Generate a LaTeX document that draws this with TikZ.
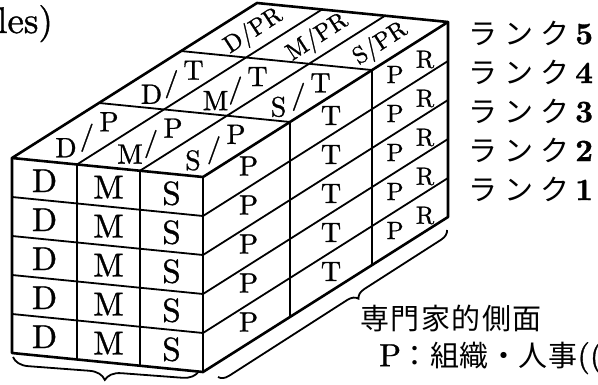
\documentclass[tikz,border=0pt]{standalone}
\usepackage{fontspec}
\setmainfont{lmroman10-regular.otf}[BoldFont=lmroman10-bold.otf, FakeBold=1.0]
\newfontfamily\cjk{Noto Sans CJK JP}
\usetikzlibrary{decorations.pathreplacing,calc}
\begin{document}
\begin{tikzpicture}[x=1pt,y=-1pt,
  edge/.style={line width=2.6pt, line join=round, line cap=round},
  gridline/.style={line width=1.8pt, line cap=round},
  fl/.style={font=\fontsize{33}{33}\selectfont, inner sep=0pt},
  tl/.style={font=\fontsize{28}{28}\selectfont, inner sep=0pt},
  prl/.style={font=\fontsize{24}{24}\selectfont, inner sep=0pt, rotate=33},
  rl/.style={font=\fontsize{28}{28}\selectfont, inner sep=0pt},
  pl/.style={font=\fontsize{25}{25}\selectfont, inner sep=0pt},
  jt/.style={anchor=west, inner sep=0pt, font=\cjk\fontsize{29}{29}\selectfont},
  bracestyle/.style={line width=1.8pt, decorate}
]
\useasboundingbox (0,0) rectangle (598,385);
\def\cfa{{0,0.3403,0.6702,1}}
\def\dfa{{0,0.355,0.69,1}}
\foreach \i in {0,1,2,3}{
 \foreach \k in {0,1,2,3}{
  \foreach \j in {0,...,5}{
   \pgfmathsetmacro\xx{12+\cfa[\i]*191+\dfa[\k]*245}
   \pgfmathsetmacro\yy{158+\cfa[\i]*19-\dfa[\k]*155+39*\j}
   \coordinate (p\i\k\j) at (\xx,\yy);
}}}
% front grid
\foreach \j in {1,...,4} \draw[gridline] (p00\j) -- (p30\j);
\foreach \i in {1,2} \draw[gridline] (p\i00) -- (p\i05);
% top grid
\foreach \i in {1,2} \draw[gridline] (p\i00) -- (p\i30);
\foreach \k in {1,2} \draw[gridline] (p0\k0) -- (p3\k0);
% right grid
\foreach \k in {1,2} \draw[gridline] (p3\k0) -- (p3\k5);
\foreach \j in {1,...,4} \draw[gridline] (p30\j) -- (p33\j);
% outline
\draw[edge] (p000) -- (p030) -- (p330) -- (p335) -- (p305) -- (p005) -- cycle;
\draw[edge] (p000) -- (p300) -- (p330);
\draw[edge] (p300) -- (p305);
% front labels
\foreach \j/\jj in {0/1,1/2,2/3,3/4,4/5}{
  \node[fl] at ($(p00\j)!0.5!(p10\jj)$) {D};
  \node[fl] at ($(p10\j)!0.5!(p20\jj)$) {M};
  \node[fl] at ($(p20\j)!0.5!(p30\jj)$) {S};
}
% top labels
\foreach \i/\ii/\L in {0/1/D,1/2/M,2/3/S}{
  \coordinate (c) at ($(p\i00)!0.5!(p\ii10)$);
  \node[tl] at ($(c)+(-22,14)$) {\L};
  \node[tl] at ($(c)+(-1,4)$) {/};
  \node[tl] at ($(c)+(21,-12)$) {P};
  \coordinate (c) at ($(p\i10)!0.5!(p\ii20)$);
  \node[tl] at ($(c)+(-21,14)$) {\L};
  \node[tl] at ($(c)+(-1,4)$) {/};
  \node[tl] at ($(c)+(21,-10)$) {T};
  \node[prl] at ($(p\i20)!0.5!(p\ii30)+(2,1)$) {\L/PR};
}
% right labels
\foreach \j/\jj in {0/1,1/2,2/3,3/4,4/5}{
  \node[rl] at ($(p30\j)!0.5!(p31\jj)+(2,-3)$) {P};
  \node[rl] at ($(p31\j)!0.5!(p32\jj)$) {T};
  \coordinate (c) at ($(p32\j)!0.5!(p33\jj)$);
  \node[pl] at ($(c)+(-15,9)$) {P};
  \node[pl] at ($(c)+(15,-6)$) {R};
}
% braces
\draw[bracestyle, decoration={brace, amplitude=16pt}] (199,371) -- (13,357);
\draw[bracestyle, decoration={brace, amplitude=10pt, aspect=0.41}] (447,230) -- (218,377);
% texts
\node[anchor=base west, inner sep=0pt, font=\fontsize{37}{37}\selectfont] (les) at (-3,33) {les)};
\foreach \r/\k in {5/0,4/1,3/2,2/3,1/4}
  \node[jt] (rank\r) at (468,33+39*\k) {ラ\kern7ptン\kern7ptク\kern6pt{\rmfamily\bfseries\fontsize{31}{31}\selectfont\r}};
\node[jt] (sen) at (360,318) {専\kern1.5pt門\kern1.5pt家\kern1.5pt的\kern1.5pt側\kern1.5pt面};
\node[jt] (pline) at (379,358) {{\rmfamily\fontsize{32}{32}\selectfont P}：\kern0.5pt組\kern0.5pt織\kern0.5pt・\kern0.5pt人\kern0.5pt事{\rmfamily\fontsize{32}{32}\selectfont((}};
\end{tikzpicture}
\end{document}
